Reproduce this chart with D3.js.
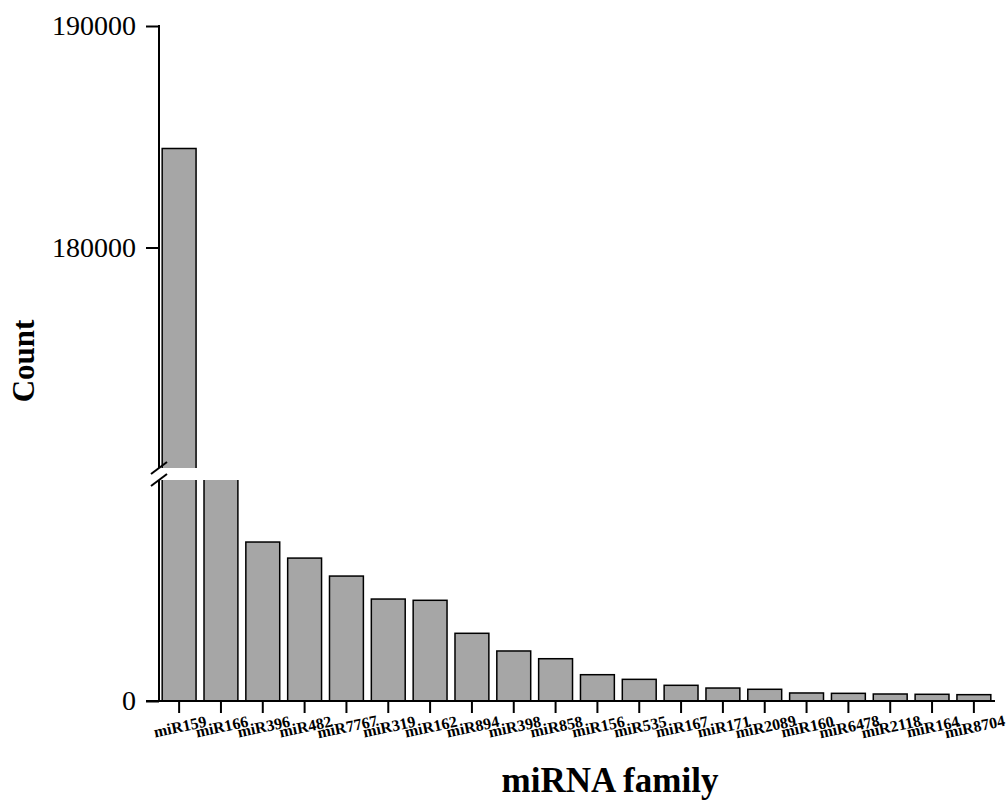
<!DOCTYPE html>
<html>
<head>
<meta charset="utf-8">
<script src="https://cdn.jsdelivr.net/npm/d3@7"></script>
<style>
  body { margin: 0; background: #fff; }
  svg { display: block; }
  text { font-family: "Liberation Serif", "Times New Roman", serif; fill: #000; }
</style>
</head>
<body>
<svg id="chart" width="1008" height="801"></svg>
<script>
// ---- data ----
const categories = ["miR159","miR166","miR396","miR482","miR7767","miR319","miR162","miR894","miR398","miR858",
                    "miR156","miR535","miR167","miR171","miR2089","miR160","miR6478","miR2118","miR164","miR8704"];
const counts = [184470, 36000, 21580, 19400, 16960, 13840, 13670, 9190, 6790, 5740,
                3570, 2940, 2130, 1760, 1590, 1090, 1040, 950, 910, 860];
const upperTicks = [180000, 190000];
const lowerTicks = [0];
const lowerDomain = [0, 30000];
const upperDomain = [170000, 190000];

// ---- layout ----
const svg = d3.select("#chart");
const axisX = 159, baseY = 701;
const lowTop = 480, upBottom = 468, upTop = 26;

const x = d3.scaleBand().domain(categories).range([158, 995]).paddingInner(0.19).paddingOuter(0.1);
const yLow = d3.scaleLinear().domain(lowerDomain).range([baseY, lowTop]);
const yUp = d3.scaleLinear().domain(upperDomain).range([469, upTop]);

const data = categories.map((c, i) => ({ c, v: counts[i] }));

const defs = svg.append("defs");
defs.append("clipPath").attr("id", "clipLow").append("rect")
  .attr("x", 0).attr("y", lowTop).attr("width", 1008).attr("height", baseY - lowTop + 2);
defs.append("clipPath").attr("id", "clipUp").append("rect")
  .attr("x", 0).attr("y", 0).attr("width", 1008).attr("height", upBottom);

// lower segment bars
svg.append("g").attr("clip-path", "url(#clipLow)")
  .selectAll("rect").data(data).join("rect")
  .attr("x", d => x(d.c)).attr("width", x.bandwidth())
  .attr("y", d => Math.max(yLow(d.v), lowTop - 10))
  .attr("height", d => baseY - Math.max(yLow(d.v), lowTop - 10))
  .attr("fill", "#a6a6a6").attr("stroke", "#000").attr("stroke-width", 1.5);

// upper segment bars
svg.append("g").attr("clip-path", "url(#clipUp)")
  .selectAll("rect").data(data.filter(d => d.v > upperDomain[0])).join("rect")
  .attr("x", d => x(d.c)).attr("width", x.bandwidth())
  .attr("y", d => yUp(d.v))
  .attr("height", d => upBottom + 10 - yUp(d.v))
  .attr("fill", "#a6a6a6").attr("stroke", "#000").attr("stroke-width", 1.5);

// y axis - upper
const gUp = svg.append("g").attr("transform", `translate(${axisX},0)`)
  .call(d3.axisLeft(yUp).tickValues(upperTicks).tickSize(13).tickPadding(10).tickFormat(d3.format("d")));
gUp.select(".domain").remove();
gUp.append("line").attr("x1", 0).attr("x2", 0).attr("y1", upTop - 1).attr("y2", upBottom).attr("stroke", "#000").attr("stroke-width", 2);

// y axis - lower
const gLow = svg.append("g").attr("transform", `translate(${axisX},0)`)
  .call(d3.axisLeft(yLow).tickValues(lowerTicks).tickSize(13).tickPadding(10).tickFormat(d3.format("d")));
gLow.select(".domain").remove();
gLow.append("line").attr("x1", 0).attr("x2", 0).attr("y1", lowTop).attr("y2", baseY).attr("stroke", "#000").attr("stroke-width", 2);

[gUp, gLow].forEach(g => {
  g.selectAll(".tick line").attr("stroke", "#000").attr("stroke-width", 2);
  g.selectAll(".tick text").attr("font-size", 28).attr("font-family", "Liberation Serif, serif").attr("fill", "#000");
});

// break marks
[upBottom, lowTop].forEach(yy => {
  svg.append("line").attr("x1", axisX - 8).attr("y1", yy + 6).attr("x2", axisX + 8).attr("y2", yy - 6)
    .attr("stroke", "#000").attr("stroke-width", 2);
});

// x axis
const gx = svg.append("g").attr("transform", `translate(0,${baseY})`)
  .call(d3.axisBottom(x).tickSize(12).tickSizeOuter(0));
gx.select(".domain").remove();
gx.append("line").attr("x1", 146).attr("x2", 995).attr("y1", 0).attr("y2", 0).attr("stroke", "#000").attr("stroke-width", 2);
gx.selectAll(".tick line").attr("stroke", "#000").attr("stroke-width", 2);
gx.selectAll(".tick text")
  .attr("font-size", 16).attr("font-weight", "bold").attr("font-family", "Liberation Serif, serif").attr("fill", "#000")
  .attr("text-anchor", "middle").attr("dy", null).attr("y", null)
  .attr("transform", "translate(2,31) rotate(-12)");

// axis titles
svg.append("text").attr("x", 610).attr("y", 792).attr("text-anchor", "middle")
  .attr("font-size", 35).attr("font-weight", "bold").text("miRNA family");
svg.append("text").attr("transform", "translate(34,361) rotate(-90)").attr("text-anchor", "middle")
  .attr("font-size", 31).attr("font-weight", "bold").text("Count");
</script>
</body>
</html>
